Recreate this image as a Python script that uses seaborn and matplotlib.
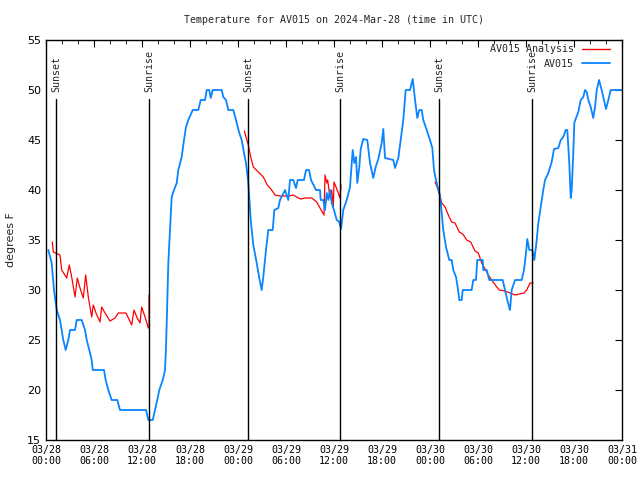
import numpy as np
import pandas as pd
import matplotlib
matplotlib.use('Agg')
import matplotlib.pyplot as plt
import matplotlib.dates as mdates
from matplotlib.lines import Line2D
import seaborn as sns

# heures depuis 2024-03-28 00:00 UTC, temperature en F
obs_hours = [0.29, 0.71, 1.0, 1.34, 1.75, 2.16, 2.46, 2.79, 3.0, 3.63, 3.84, 4.46, 4.88, 5.09, 5.41,
             5.71, 5.84, 7.25, 7.46, 7.79, 8.21, 8.91, 9.25, 12.5, 12.79, 13.34, 13.63, 13.91, 14.16,
             14.59, 14.88, 15.0, 15.09, 15.29, 15.5, 15.71, 16.0, 16.34, 16.54, 16.96, 17.25, 17.5,
             17.79, 18.34, 19.04, 19.34, 19.88, 20.09, 20.41, 20.59, 20.84, 21.96, 22.16, 22.5, 22.79,
             23.41, 23.75, 24.13, 24.46, 24.75, 25.0, 25.29, 25.59, 25.91, 26.34, 26.66, 26.96, 27.16,
             27.5, 27.79, 28.34, 28.54, 29.04, 29.25, 29.88, 30.29, 30.5, 30.91, 31.25, 31.46, 32.25,
             32.5, 32.88, 33.13, 33.75, 34.25, 34.34, 34.66, 34.88, 35.09, 35.29, 35.5, 35.71, 36.0,
             36.34, 36.66, 36.88, 37.16, 37.59, 38.0, 38.34, 38.54, 38.75, 38.91, 39.16, 39.34, 39.66,
             40.16, 40.5, 40.91, 41.21, 41.54, 41.96, 42.16, 42.38, 43.41, 43.63, 44.04, 44.34, 44.66,
             44.96, 45.5, 45.84, 46.13, 46.41, 46.66, 46.96, 47.16, 47.59, 48.0, 48.29, 48.5, 48.75,
             49.04, 49.25, 49.66, 50.0, 50.41, 50.71, 50.91, 51.25, 51.46, 51.66, 51.96, 52.09, 53.21,
             53.41, 53.75, 53.91, 54.59, 54.66, 55.09, 55.41, 57.09, 57.38, 57.66, 58.0, 58.21, 58.63,
             59.46, 59.75, 60.0, 60.16, 60.41, 60.79, 61.04, 61.34, 61.54, 61.84, 62.16, 62.38, 62.79,
             63.21, 63.5, 64.04, 64.34, 64.66, 64.96, 65.16, 65.41, 65.59, 65.71, 65.91, 66.04, 66.25,
             66.54, 66.84, 67.16, 67.38, 67.59, 67.79, 68.09, 68.41, 68.63, 68.84, 69.13, 69.46, 69.75,
             70.0, 70.29, 70.59, 71.96]
obs_temp = [34.0, 32.7, 30, 28, 27, 25, 24, 25, 26, 26, 27, 27, 26, 25, 24,
            23, 22, 22, 21, 20, 19, 19, 18, 18, 17, 17, 18, 19, 20,
            21, 22, 24.3, 26.7, 32.7, 36, 39.3, 40, 40.7, 42, 43.3, 45, 46.3,
            47, 48, 48, 49, 49, 50, 50, 49.2, 50, 50, 49.3, 49, 48,
            48, 47, 45.8, 45, 43.7, 42.7, 40.7, 37, 34.5, 32.7, 31.2, 30, 31.3,
            34, 36, 36, 38, 38.2, 39, 40, 39, 41, 41, 40.2, 41, 41,
            42, 42, 41, 40, 40, 39, 39, 38, 39.7, 39, 40, 38.7, 38,
            37, 36.8, 36.1, 38, 39, 40.3, 44, 42.7, 43.3, 40.7, 42.3, 44.1, 45.1,
            45, 42.7, 41.2, 42.3, 43.1, 44.7, 46.1, 43.2, 43, 42.2, 43.2, 45, 47,
            50, 50, 51.1, 49, 47.2, 48, 48, 47, 46, 45, 44.2, 42, 41,
            40, 39.5, 36, 34.3, 33, 33, 32, 31.3, 30.3, 29, 29, 30, 30,
            31, 31, 33, 33, 32, 32, 31, 31, 30, 29, 28, 30, 31,
            31, 32, 33.7, 35.1, 34, 34, 33, 35, 36.7, 38.3, 40, 41, 41.7,
            42.8, 44.1, 44.2, 45, 45.3, 46, 46, 42.7, 39.2, 40, 43.7, 46.7, 47.2,
            47.8, 49, 49.3, 50, 49.8, 49, 48.3, 47.2, 48.3, 50, 51, 50, 49,
            48.1, 49, 50, 50]

ana_hours = [0.79, 0.91, 1.75, 1.96, 2.59, 2.91, 3.21, 3.63, 3.91, 4.25, 4.66, 4.96, 5.29, 5.71,
             5.91, 6.25, 6.75, 6.96, 7.38, 8.0, 8.63, 9.04, 10.0, 10.71, 11.0, 11.34, 11.75, 11.96,
             12.38, 12.79, 12.88, 12.88,
             24.79, 25.29, 25.59, 25.91, 26.54, 27.16, 27.66, 28.21, 28.63, 29.25, 30.29, 30.91,
             31.54, 31.84, 32.38, 33.21, 33.84, 34.25, 34.75, 34.88, 35.09, 35.21, 35.5, 35.71,
             35.91, 36.0, 36.25, 36.54, 36.75, 36.88,
             48.63, 49.04, 49.46, 49.88, 50.29, 50.71, 51.13, 51.66, 52.09, 52.59, 53.09, 53.63,
             54.04, 54.46, 54.88, 55.29, 55.71, 56.25, 56.66, 57.38, 58.0, 58.63, 59.16, 59.75,
             60.09, 60.5, 60.91]
ana_temp = [34.8, 33.8, 33.5, 32, 31.2, 32.5, 31.3, 29.3, 31.2, 30.2, 29.2, 31.5, 29.3, 27.3,
            28.5, 27.7, 26.8, 28.3, 27.7, 26.9, 27.2, 27.7, 27.7, 26.5, 28, 27.3, 26.7, 28.3,
            27.3, 26.2, 26.2, 29.5,
            45.9, 44.5, 43.3, 42.3, 41.8, 41.3, 40.5, 40, 39.5, 39.4, 39.4, 39.5,
            39.2, 39.1, 39.2, 39.2, 38.8, 38.2, 37.5, 41.5, 40.7, 41, 39.2, 40,
            38.3, 40.8, 40.3, 39.7, 39.2, 40.5,
            40.8, 40, 38.7, 38.3, 37.5, 36.8, 36.7, 35.8, 35.6, 35, 34.8, 33.9,
            33.7, 32.7, 32.1, 31.5, 31, 30.4, 30, 29.9, 29.7, 29.5, 29.6, 29.7,
            30, 30.7, 30.7]
ana_segment = [1] * 32 + [2] * 30 + [3] * 27

sun_hours = [1.25, 12.88, 25.29, 36.75, 49.16, 60.79]
sun_labels = ['Sunset', 'Sunrise', 'Sunset', 'Sunrise', 'Sunset', 'Sunrise']

t0 = pd.Timestamp('2024-03-28 00:00')
obs = pd.DataFrame({'time': t0 + pd.to_timedelta(obs_hours, unit='h'), 'temp': obs_temp})
ana = pd.DataFrame({'time': t0 + pd.to_timedelta(ana_hours, unit='h'), 'temp': ana_temp,
                    'seg': ana_segment})

sns.set_style('white')
mono = 'DejaVu Sans Mono'
plt.rcParams['font.family'] = [mono]
fs = 7.2

fig = plt.figure(figsize=(6.4, 4.8), dpi=100)
ax = fig.add_axes([46 / 640, 40 / 480, 576 / 640, 400 / 480])

red = '#ff0000'
blue = '#0a84ff'
sns.lineplot(data=ana, x='time', y='temp', units='seg', estimator=None, sort=False,
             color=red, lw=0.9, ax=ax, legend=False)
sns.lineplot(data=obs, x='time', y='temp', estimator=None, sort=False,
             color=blue, lw=1.3, ax=ax, legend=False)

# lignes lever / coucher du soleil
for h, lab in zip(sun_hours, sun_labels):
    t = t0 + pd.Timedelta(hours=h)
    ax.plot([t, t], [15, 49.1], color='black', lw=1.0)
    ax.text(t, 49.8, lab, rotation=90, ha='center', va='bottom', fontsize=fs, family=mono)

ax.set_xlim(t0, t0 + pd.Timedelta(hours=72))
ax.set_ylim(15, 55)
ax.xaxis.set_major_locator(mdates.HourLocator(byhour=[0, 6, 12, 18]))
ax.xaxis.set_minor_locator(mdates.HourLocator(byhour=range(0, 24, 2)))
ax.xaxis.set_major_formatter(mdates.DateFormatter('%m/%d\n%H:%M'))
ax.set_yticks(range(15, 56, 5))
ax.tick_params(axis='both', which='both', direction='in', top=True, right=True,
               labelsize=fs, colors='black')
ax.tick_params(which='major', length=5)
ax.tick_params(which='minor', length=3)
ax.tick_params(axis='y', labelsize=8)
for lab in ax.get_yticklabels():
    lab.set_family('DejaVu Sans')
for s in ax.spines.values():
    s.set_color('black')
    s.set_linewidth(1.0)

ax.set_xlabel('')
ax.set_ylabel('degrees F', fontsize=8, family='DejaVu Sans', labelpad=8)
ax.set_title('Temperature for AV015 on 2024-Mar-28 (time in UTC)', fontsize=fs, pad=12)

handles = [Line2D([], [], color=red, lw=1.0), Line2D([], [], color=blue, lw=1.3)]
ax.legend(handles, ['AV015 Analysis', 'AV015'], loc='upper right',
          bbox_to_anchor=(0.979, 0.989), frameon=False, fontsize=fs, markerfirst=False,
          handlelength=2.8, handletextpad=0.8, borderpad=0, borderaxespad=0,
          labelspacing=0.45)

fig.savefig('out.png', dpi=100)
